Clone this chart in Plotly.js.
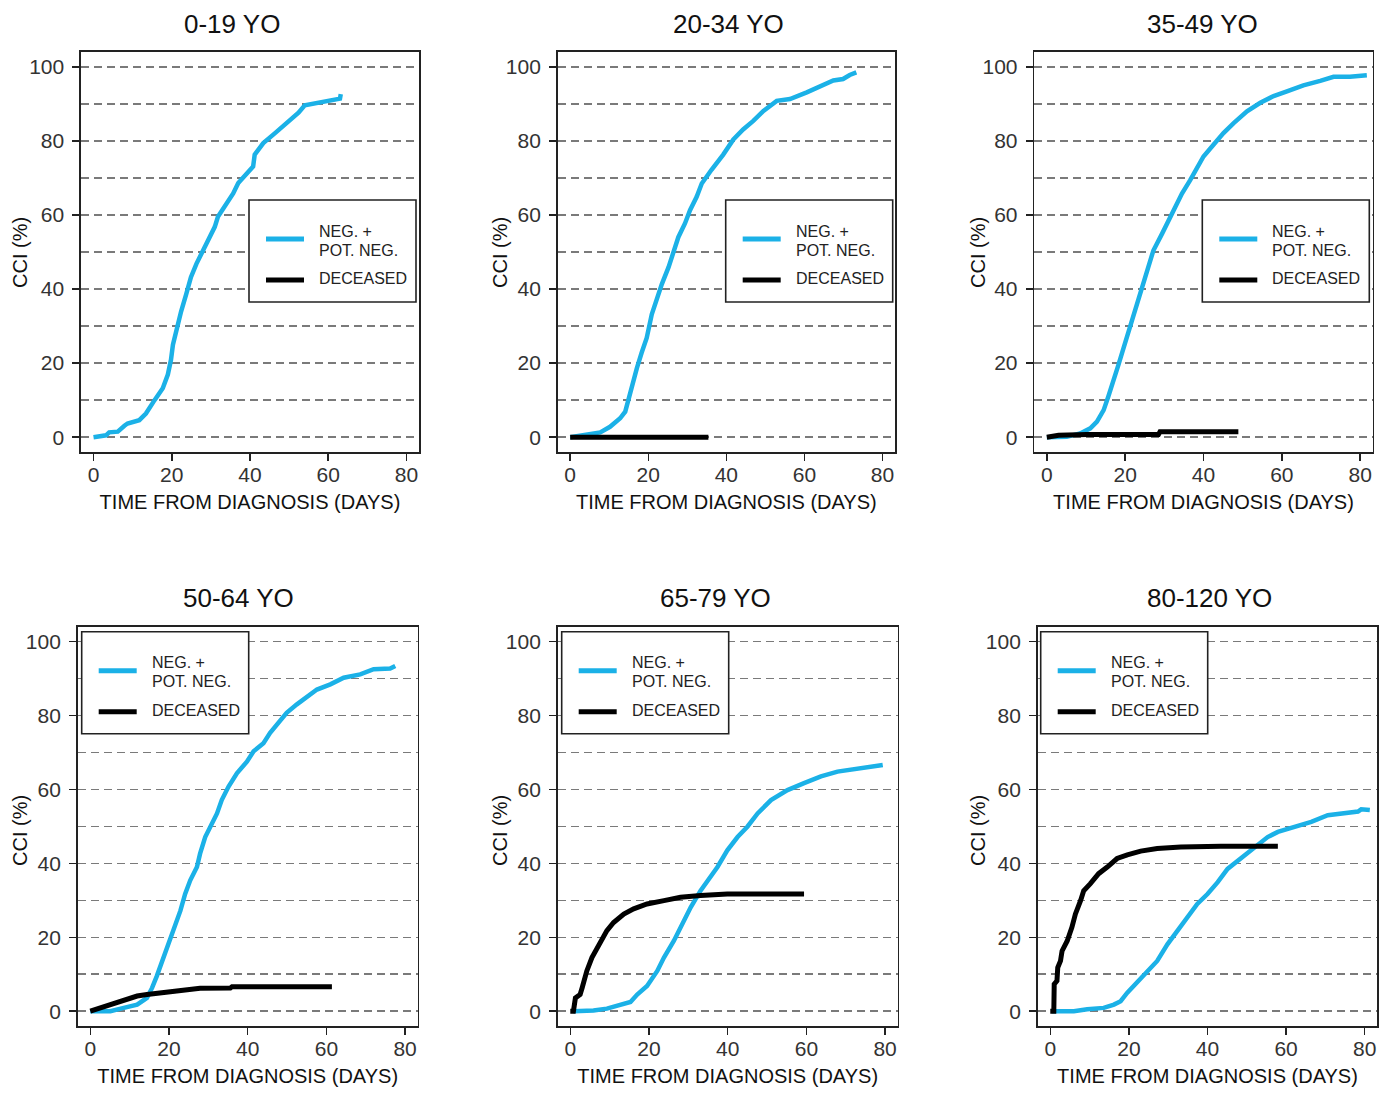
<!DOCTYPE html>
<html>
<head>
<meta charset="utf-8">
<script src="https://cdn.plot.ly/plotly-3.0.1.min.js"></script>
<style>
  html, body { margin: 0; padding: 0; background: #ffffff; }
  #chart { width: 1388px; height: 1097px; }
</style>
</head>
<body>
<div id="chart"></div>
<script>
// ---------------- DATA ----------------
const panelTitles = ['0-19 YO', '20-34 YO', '35-49 YO', '50-64 YO', '65-79 YO', '80-120 YO'];
const seriesNames = ['NEG. +<br>POT. NEG.', 'DECEASED'];
const xTicks = [0, 20, 40, 60, 80];
const yTicks = [0, 20, 40, 60, 80, 100];
const xAxisTitle = 'TIME FROM DIAGNOSIS (DAYS)';
const yAxisTitle = 'CCI (%)';

// 0-19 YO
const neg0_19Days = [0, 3.2, 4, 6.2, 7.9, 8.7, 11.7, 13.4, 15.6, 17.7, 19, 19.8, 20.3, 21.1, 22.4, 23.7, 24.9, 26.3, 27.5, 29.3, 31, 31.8, 34, 35.7, 37, 38.7, 40.8, 41.2, 43.4, 46.4, 49.4, 52.4, 54, 56.2, 59.6, 63, 63.2];
const neg0_19Cci  = [0, 0.5, 1.3, 1.5, 3.1, 3.7, 4.6, 6.4, 10, 13.2, 16.9, 20.9, 25, 28.6, 34, 38.6, 43.2, 46.8, 49.5, 53.2, 56.8, 59.5, 63.1, 65.8, 68.6, 70.8, 73.1, 76.3, 79.4, 82.1, 84.8, 87.6, 89.6, 90.1, 90.8, 91.4, 92.6];
const dec0_19Days = [0];
const dec0_19Cci  = [0];

// 20-34 YO
const neg20_34Days = [0, 3.4, 7.7, 10.2, 12.8, 14.1, 14.9, 15.8, 17.1, 18.3, 19.6, 20.9, 22.2, 23.5, 25.2, 26.4, 27.7, 29.4, 30.7, 32.4, 33.7, 36.2, 39.2, 41.8, 44.3, 46.9, 49.5, 52.9, 56.3, 60.6, 64, 67.4, 69.9, 71.6, 73.3];
const neg20_34Cci  = [0, 0.5, 1.3, 2.8, 5.1, 6.9, 10.1, 14.1, 18.7, 22.8, 26.8, 33.2, 37.7, 41.4, 45.9, 49.5, 54, 57.7, 61.3, 64.9, 68.5, 72.2, 76.3, 80.4, 83.1, 85.4, 88.1, 90.8, 91.3, 93.1, 94.7, 96.3, 96.7, 97.8, 98.5];
const dec20_34Days = [0, 35.4];
const dec20_34Cci  = [0, 0];

// 35-49 YO
const neg35_49Days = [0, 5.1, 8.5, 11.1, 12.8, 14.5, 15.7, 17, 18.3, 19.6, 20.9, 22.1, 23.4, 24.7, 26, 27.2, 29.4, 31.1, 32.8, 34.5, 36.6, 38.3, 40, 42.6, 45.1, 47.7, 51.1, 54.5, 57.9, 61.3, 65.5, 69.8, 73.2, 77.4, 81.7];
const neg35_49Cci  = [0, 0.1, 1, 2.4, 4.2, 7.3, 11, 15, 19.6, 24.1, 28.6, 33.2, 37.7, 42.2, 46.8, 50.4, 54.9, 58.6, 62.2, 65.8, 69.4, 72.6, 75.8, 79, 82.1, 84.8, 88, 90.3, 92.1, 93.4, 95, 96.2, 97.3, 97.3, 97.7];
const dec35_49Days = [0, 3, 10.2, 28.5, 28.9, 48.9];
const dec35_49Cci  = [0, 0.5, 0.7, 0.7, 1.5, 1.5];

// 50-64 YO
const neg50_64Days = [0, 5.1, 8.5, 11.9, 14.4, 15.7, 16.9, 18.6, 19.9, 21.2, 22.9, 24.1, 25.4, 27.1, 27.9, 29.2, 30.5, 32.2, 33.4, 35.1, 37.3, 39.8, 41.5, 44, 45.7, 47.8, 49.9, 52.5, 55, 57.6, 61, 64.4, 68.6, 72, 76.2, 77.5];
const neg50_64Cci  = [0, 0, 0.9, 1.8, 3.6, 6.3, 9.5, 14.5, 19, 22.7, 27.2, 31.7, 35.4, 39, 42.6, 47.1, 49.9, 53.5, 57.1, 60.7, 64.4, 67.5, 70.3, 72.5, 75.3, 78, 80.7, 83, 84.8, 87, 88.4, 90.2, 91.1, 92.5, 92.7, 93.4];
const dec50_64Days = [0, 2.5, 5.1, 8.5, 11.9, 14.4, 17.8, 22.9, 27.9, 35.6, 36, 61.4];
const dec50_64Cci  = [0, 0.9, 1.8, 3.2, 4.1, 4.5, 5, 5.6, 6.2, 6.3, 6.6, 6.6];

// 65-79 YO
const neg65_79Days = [0.8, 5.9, 9.3, 12.7, 15.3, 17, 19.5, 22.1, 23.8, 26.3, 28.5, 30.6, 33.1, 35.7, 37.4, 39.9, 42.5, 45, 47.6, 51, 55.2, 59.4, 63.7, 67.9, 72.2, 76.4, 79.4];
const neg65_79Cci  = [0, 0.2, 0.7, 1.8, 2.5, 4.5, 6.8, 10.9, 14.5, 19, 23.6, 28.1, 32.6, 36.3, 39, 43.5, 47.1, 49.9, 53.5, 57.1, 59.8, 61.7, 63.5, 64.8, 65.5, 66.2, 66.6];
const dec65_79Days = [0, 0.8, 1.3, 2.5, 3, 4.2, 5.5, 6.8, 8.1, 9.3, 11, 13.6, 16.1, 19.5, 23.8, 28, 33.1, 39.9, 48.4, 59.4];
const dec65_79Cci  = [0, 0, 3.6, 4.5, 6.3, 10.9, 14.5, 17.2, 19.9, 21.8, 24, 26.3, 27.7, 29, 29.9, 30.8, 31.3, 31.7, 31.7, 31.7];

// 80-120 YO
const neg80_120Days = [0.4, 6, 9.4, 13.6, 16.2, 17.9, 19.6, 22.1, 24.7, 27.2, 29.8, 32.3, 34.9, 37.4, 40, 42.6, 45.1, 48.5, 51.9, 55.3, 57.9, 62.1, 66.4, 70.6, 74.9, 78.3, 79.1, 81.3];
const neg80_120Cci  = [0, 0, 0.5, 0.9, 1.8, 2.7, 5, 7.7, 10.9, 13.6, 18.1, 21.8, 25.8, 29, 31.7, 34.9, 38.5, 41.3, 44, 47.1, 48.5, 49.9, 51.2, 53, 53.7, 54, 54.6, 54.4];
const dec80_120Days = [0, 0.9, 1, 1.7, 1.9, 2.6, 3, 4.3, 5.5, 6.4, 7.7, 8.5, 10.2, 12.3, 14.5, 17, 19.6, 23, 27.2, 33.2, 43.4, 57.9];
const dec80_120Cci  = [0, 0, 7.3, 8.2, 11.8, 13.6, 16.3, 19, 22.7, 26.3, 29.9, 32.6, 34.5, 37.2, 39, 41.3, 42.3, 43.3, 44, 44.4, 44.6, 44.6];

const negDays = [neg0_19Days, neg20_34Days, neg35_49Days, neg50_64Days, neg65_79Days, neg80_120Days];
const negCci  = [neg0_19Cci, neg20_34Cci, neg35_49Cci, neg50_64Cci, neg65_79Cci, neg80_120Cci];
const decDays = [dec0_19Days, dec20_34Days, dec35_49Days, dec50_64Days, dec65_79Days, dec80_120Days];
const decCci  = [dec0_19Cci, dec20_34Cci, dec35_49Cci, dec50_64Cci, dec65_79Cci, dec80_120Cci];

// ---------------- LAYOUT / STYLE ----------------
const W = 1388, H = 1097;
const FONT = 'Liberation Sans, Arial, Helvetica, sans-serif';
const BLUE = '#1BB1E7';
const BLACK = '#000000';
const fx = x => x / W;
const fy = y => 1 - y / H;

// pixel boxes [left, top, right, bottom], title centre, y-title centre, legend top-left
const panels = [
  {box: [81, 52, 419, 452],        title: [232, 24],    ytitle: [20, 253],  leg: [249, 200]},
  {box: [557.7, 52, 895, 452],     title: [728, 24],    ytitle: [500, 253], leg: [725.7, 200]},
  {box: [1034.3, 52, 1372.7, 452], title: [1202.5, 24], ytitle: [978, 253], leg: [1202.3, 200]},
  {box: [77.7, 626.7, 417.7, 1026],  title: [238.5, 598], ytitle: [20, 831],  leg: [81.7, 631.7]},
  {box: [557.7, 626.7, 897.7, 1026], title: [716, 598],   ytitle: [500, 831], leg: [561.7, 631.7]},
  {box: [1037.7, 626.7, 1377.3, 1026], title: [1209.5, 598], ytitle: [978, 831], leg: [1040.7, 631.7]}
];

const data = [];
const layout = {
  width: W, height: H,
  margin: {l: 0, r: 0, t: 0, b: 0},
  paper_bgcolor: '#ffffff',
  plot_bgcolor: '#ffffff',
  showlegend: false,
  font: {family: FONT, color: '#222222'},
  annotations: [],
  shapes: []
};

panels.forEach((p, i) => {
  const n = i + 1;
  const xa = 'xaxis' + (n === 1 ? '' : n);
  const ya = 'yaxis' + (n === 1 ? '' : n);
  const xr = 'x' + (n === 1 ? '' : n);
  const yr = 'y' + (n === 1 ? '' : n);

  data.push({
    x: negDays[i], y: negCci[i], xaxis: xr, yaxis: yr,
    type: 'scatter', mode: 'lines', name: seriesNames[0],
    line: {color: BLUE, width: 4.5}, hoverinfo: 'x+y'
  });
  data.push({
    x: decDays[i], y: decCci[i], xaxis: xr, yaxis: yr,
    type: 'scatter', mode: 'lines', name: seriesNames[1],
    line: {color: BLACK, width: 5}, hoverinfo: 'x+y'
  });

  const [l, t, r, b] = p.box;
  layout[xa] = {
    domain: [fx(l), fx(r)], anchor: yr,
    range: [-3.2, 83.2], tickvals: xTicks, ticks: 'outside', ticklen: 7, tickwidth: 1.5,
    tickcolor: '#222', showline: true, mirror: true, linecolor: '#222', linewidth: 1.6,
    showgrid: false, zeroline: false, ticklabelstandoff: -4,
    tickfont: {size: 21, color: '#333333', family: FONT},
    title: {text: xAxisTitle, font: {size: 20, color: '#111111', family: FONT}, standoff: 10}
  };
  layout[ya] = {
    domain: [fy(b), fy(t)], anchor: xr,
    range: [-4, 104], tickvals: yTicks, ticks: 'outside', ticklen: 7, tickwidth: 1.5,
    tickcolor: '#222', showline: true, mirror: true, linecolor: '#222', linewidth: 1.6,
    showgrid: true, gridcolor: '#7a7a7a', gridwidth: 1.5, griddash: '8px,5px',
    minor: {dtick: 10, tick0: 0, showgrid: true, gridcolor: '#7a7a7a', gridwidth: 1.5, griddash: '8px,5px', ticks: ''},
    zeroline: false, ticklabelstandoff: 4,
    tickfont: {size: 21, color: '#333333', family: FONT}
  };

  // panel title
  layout.annotations.push({
    text: panelTitles[i], xref: 'paper', yref: 'paper',
    x: fx(p.title[0]), y: fy(p.title[1]), xanchor: 'center', yanchor: 'middle',
    showarrow: false, font: {size: 26, color: '#111111', family: FONT}
  });
  // y axis title
  layout.annotations.push({
    text: yAxisTitle, xref: 'paper', yref: 'paper', textangle: -90,
    x: fx(p.ytitle[0]), y: fy(p.ytitle[1]), xanchor: 'center', yanchor: 'middle',
    showarrow: false, font: {size: 20, color: '#111111', family: FONT}
  });

  // legend box (drawn with shapes and text)
  const [lx, ly] = p.leg;
  layout.shapes.push({
    type: 'rect', xref: 'paper', yref: 'paper', layer: 'above',
    x0: fx(lx), x1: fx(lx + 167), y0: fy(ly), y1: fy(ly + 102),
    line: {color: '#222', width: 1.6}, fillcolor: '#ffffff'
  });
  layout.shapes.push({
    type: 'line', xref: 'paper', yref: 'paper', layer: 'above',
    x0: fx(lx + 17), x1: fx(lx + 55), y0: fy(ly + 39), y1: fy(ly + 39),
    line: {color: BLUE, width: 5}
  });
  layout.shapes.push({
    type: 'line', xref: 'paper', yref: 'paper', layer: 'above',
    x0: fx(lx + 17), x1: fx(lx + 55), y0: fy(ly + 80), y1: fy(ly + 80),
    line: {color: BLACK, width: 5}
  });
  const legLines = [['NEG. +', 31], ['POT. NEG.', 50], ['DECEASED', 78.5]];
  legLines.forEach(([txt, dy]) => {
    layout.annotations.push({
      text: txt, xref: 'paper', yref: 'paper',
      x: fx(lx + 68), y: fy(ly + dy), xanchor: 'left', yanchor: 'middle',
      showarrow: false, font: {size: 16, color: '#222222', family: FONT}
    });
  });
});

Plotly.newPlot('chart', data, layout, {staticPlot: true, displayModeBar: false});
</script>
</body>
</html>
